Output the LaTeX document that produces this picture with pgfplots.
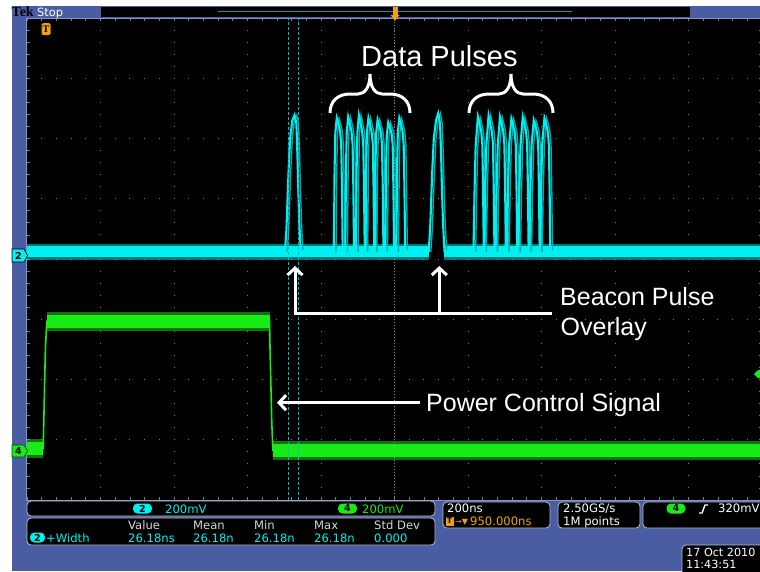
\documentclass[border=0pt]{standalone}
\usepackage{pgfplots}
\pgfplotsset{compat=1.18}
\usepackage{pgfplotstable}
\usepackage{fontspec}
\setmainfont{Liberation Sans}
\newfontfamily\tekfont{DejaVu Sans}
\newfontfamily\logofont{Liberation Serif}
\usetikzlibrary{arrows.meta}

\definecolor{tekblue}{RGB}{74,92,162}
\definecolor{tekcyan}{RGB}{0,240,240}
\definecolor{ghostcyan}{RGB}{0,175,180}
\definecolor{tekgreen}{RGB}{25,235,25}
\definecolor{tekorange}{RGB}{240,160,20}
\definecolor{gridgray}{RGB}{125,125,125}
\definecolor{framelite}{RGB}{130,150,205}
\definecolor{boxedge}{RGB}{185,190,205}
\definecolor{hdrgray}{RGB}{215,215,215}
\definecolor{cursorcyan}{RGB}{0,185,200}
\definecolor{tantick}{RGB}{150,140,95}
\definecolor{recbar}{RGB}{0,160,170}

% Channel 2 (cyan): time [ns], level [div]
\pgfplotstableread{
t y
-1000 0.13
-298 0.13
-294 0.5
-291 1.0
-288 1.5
-284 2.0
-278 2.3
-272 2.39
-267 2.25
-264 1.7
-262 1.2
-259 0.6
-255 0.13
-165 0.13
-163 1.5
-161 2.1
-157 2.34
-153 2.26
-148 2.12
-145 1.9
-143 1.2
-141 0.13
-134 0.13
-132 1.5
-130 2.1
-126 2.36
-122 2.26
-117 2.12
-114 1.9
-112 1.2
-110 0.13
-105 0.13
-103 1.5
-101 2.1
-97 2.39
-93 2.28
-88 2.12
-85 1.9
-83 1.2
-81 0.13
-79 0.13
-77 1.5
-75 2.1
-71 2.34
-67 2.24
-62 2.1
-59 1.9
-57 1.2
-55 0.13
-54 0.13
-52 1.5
-50 2.08
-46 2.31
-42 2.22
-37 2.1
-34 1.9
-32 1.2
-30 0.13
-25 0.13
-23 1.5
-21 2.05
-17 2.27
-13 2.2
-8 2.08
-5 1.9
-3 1.2
-1 0.13
5 0.13
7 1.5
9 2.1
13 2.34
17 2.25
22 2.12
25 1.9
27 1.2
29 0.13
93 0.13
97 0.5
100 1.0
103 1.5
107 2.0
113 2.3
119 2.42
124 2.25
127 1.7
129 1.2
132 0.6
136 0.13
215 0.13
218 1.2
221 1.9
227 2.36
231 2.26
236 2.12
239 1.9
241 1.2
243 0.13
244 0.13
247 1.2
250 1.9
256 2.38
260 2.26
265 2.12
268 1.9
270 1.2
272 0.13
275 0.13
278 1.2
281 1.9
287 2.36
291 2.26
296 2.12
299 1.9
301 1.2
303 0.13
306 0.13
309 1.2
312 1.9
318 2.33
322 2.24
327 2.1
330 1.9
332 1.2
334 0.13
337 0.13
340 1.2
343 1.9
349 2.36
353 2.26
358 2.12
361 1.9
363 1.2
365 0.13
367 0.13
370 1.2
373 1.9
379 2.3
383 2.22
388 2.1
391 1.9
393 1.2
395 0.13
396 0.13
399 1.2
402 1.9
408 2.34
412 2.25
417 2.12
420 1.9
422 1.2
424 0.13
1000 0.13
}\chtwo

% Channel 4 (green)
\pgfplotstableread{
t y
-1000 -3.15
-956 -3.15
-955 -2.9
-950 -1.5
-946 -1.03
-340 -1.03
-339 -1.4
-334 -2.7
-331 -3.17
1000 -3.17
}\chfour

\begin{document}
\begin{tikzpicture}[x=1pt,y=1pt]
\path[use as bounding box] (0,0) rectangle (760,-571);
\fill[white] (0,0) rectangle (760,-571);
\fill[tekblue] (12,-5.5) rectangle (760,-571);
% top status bar
\fill[black] (101,-6.5) rectangle (690,-17);
\draw[recbar, line width=1pt] (218,-11) -- (572,-11);
\node[anchor=base west, inner sep=0, text=black, font=\logofont\bfseries\fontsize{14}{14}\selectfont] at (11.5,-16.5) {Tek};
\node[anchor=base west, inner sep=0, text=white, font=\tekfont\fontsize{11.4}{12}\selectfont] at (37,-16) {Stop};

\begin{axis}[
  at={(27pt,-500pt)}, anchor=south west,
  scale only axis, width=735pt, height=482pt,
  xmin=-1000, xmax=1000, ymin=-4, ymax=4,
  axis background/.style={fill=black},
  xtick={-1000,-800,...,1000}, ytick={-4,-3,...,4},
  xticklabels={}, yticklabels={},
  minor x tick num=4, minor y tick num=4,
  tick align=inside, major tick length=3pt, minor tick length=3pt,
  tick style={gridgray, line width=0.8pt},
  xmajorgrids, ymajorgrids,
  major x grid style={gridgray, line width=1pt, dash pattern=on 1pt off 11.05pt, dash phase=0.5pt},
  major y grid style={gridgray, line width=1pt, dash pattern=on 1pt off 13.7pt, dash phase=0.5pt},
  axis line style={framelite, line width=1pt},
]
% centre (trigger) line
\draw[tantick, line width=1pt, dash pattern=on 1pt off 2pt] (axis cs:0,-4) -- (axis cs:0,4);
% channel 4 (green)
\addplot[tekgreen, opacity=0.5, line width=19pt, forget plot] coordinates {(-1000,-3.15) (-956,-3.15)};
\addplot[tekgreen, line width=13pt, forget plot] coordinates {(-1000,-3.15) (-956,-3.15)};
\addplot[tekgreen, opacity=0.5, line width=19pt, forget plot] coordinates {(-946,-1.03) (-340,-1.03)};
\addplot[tekgreen, line width=13pt, forget plot] coordinates {(-946,-1.03) (-340,-1.03)};
\addplot[tekgreen, opacity=0.5, line width=19pt, forget plot] coordinates {(-331,-3.17) (1000,-3.17)};
\addplot[tekgreen, line width=13pt, forget plot] coordinates {(-331,-3.17) (1000,-3.17)};
\addplot[tekgreen, line width=1.6pt, forget plot] table[x=t,y=y] {\chfour};
% channel 2 (cyan) baseline band
\addplot[tekcyan, opacity=0.5, line width=16pt, forget plot] coordinates {(-1000,0.12) (94,0.12)};
\addplot[tekcyan, line width=11pt, forget plot] coordinates {(-1000,0.12) (94,0.12)};
\addplot[tekcyan, opacity=0.5, line width=16pt, forget plot] coordinates {(136,0.12) (1000,0.12)};
\addplot[tekcyan, line width=11pt, forget plot] coordinates {(136,0.12) (1000,0.12)};
% channel 2 pulses (persistence ghost + main)
\addplot[ghostcyan, line width=1.3pt, xshift=2.2pt, forget plot] table[x=t,y=y] {\chtwo};
\addplot[tekcyan, line width=2.1pt, forget plot] table[x=t,y=y] {\chtwo};
% cursors
\draw[cursorcyan, line width=0.8pt, dash pattern=on 3pt off 2pt] (axis cs:-288,-4) -- (axis cs:-288,4);
\draw[cursorcyan, line width=0.8pt, dash pattern=on 3pt off 2pt] (axis cs:-262,-4) -- (axis cs:-262,4);
% trigger level marker (ch4, 320 mV)
\fill[tekgreen] (axis cs:1000,-1.909) -- ++(-8pt,0pt) -- ++(4pt,4pt) -- ++(4pt,0pt) -- cycle;
\fill[tekgreen] (axis cs:1000,-1.909) -- ++(-8pt,0pt) -- ++(4pt,-4pt) -- ++(4pt,0pt) -- cycle;
\end{axis}

% markers on the screen
\node[fill=tekorange, rounded corners=1.5pt, minimum width=9pt, minimum height=12pt, inner sep=0, text=black, font=\logofont\bfseries\fontsize{10}{10}\selectfont] at (46,-29) {T};
\fill[tekorange] (392.5,-7) rectangle (397.5,-15);
\fill[tekorange] (390.5,-15) -- (399.5,-15) -- (395,-20.5) -- cycle;
% channel tags
\draw[black, fill=tekcyan, line width=0.6pt] (12,-249) -- (24,-249) -- (27.5,-255.5) -- (24,-262) -- (12,-262) -- cycle;
\node[text=black, inner sep=0, font=\tekfont\bfseries\fontsize{9.5}{10}\selectfont] at (18.5,-255.5) {2};
\draw[black!70!green, fill=tekgreen, line width=0.6pt] (12,-445) -- (24,-445) -- (27.5,-451) -- (24,-457) -- (12,-457) -- cycle;
\node[text=black, inner sep=0, font=\tekfont\bfseries\fontsize{9.5}{10}\selectfont] at (18.5,-451) {4};

% annotations
\node[anchor=base west, inner sep=0, text=white, font=\fontsize{29}{30}\selectfont] at (361,-66) {Data Pulses};
\draw[white, line width=3pt, shift={(330,-113)}] (0,0) .. controls (0,12) and (8,19) .. (20,19) -- (28,19) .. controls (35,19) and (40,26) .. (40,39) .. controls (40,26) and (45,19) .. (52,19) -- (60,19) .. controls (72,19) and (80,12) .. (80,0);
\draw[white, line width=3pt, shift={(469,-113)}] (0,0) .. controls (0,12) and (8,19) .. (20,19) -- (30,19) .. controls (37,19) and (42,26) .. (42,39) .. controls (42,26) and (47,19) .. (54,19) -- (64,19) .. controls (76,19) and (84,12) .. (84,0);
\node[anchor=base west, inner sep=0, text=white, font=\fontsize{25}{26}\selectfont] at (560,-305) {Beacon Pulse};
\node[anchor=base west, inner sep=0, text=white, font=\fontsize{25}{26}\selectfont] at (560.5,-335) {Overlay};
\node[anchor=base west, inner sep=0, text=white, font=\fontsize{25}{26}\selectfont] at (426,-411) {Power Control Signal};
\draw[white, line width=3pt] (293.5,-313.3) -- (551.7,-313.3);
\draw[white, line width=3pt, -{Straight Barb[length=7pt,width=15pt]}] (295,-313.3) -- (295,-266);
\draw[white, line width=3pt, -{Straight Barb[length=7pt,width=15pt]}] (439.3,-313.3) -- (439.3,-266);
\draw[white, line width=3pt, -{Straight Barb[length=7pt,width=15pt]}] (420,-402.7) -- (277,-402.7);

% bottom readout boxes
\tikzset{tekbox/.style={draw=boxedge, fill=black, rounded corners=4pt, line width=0.8pt},
  tektxt/.style={anchor=base west, inner sep=0, font=\tekfont\fontsize{11.6}{12}\selectfont},
  badge/.style={rounded corners=4.5pt, minimum width=19pt, minimum height=10pt, inner sep=0, text=black, font=\tekfont\bfseries\fontsize{9.5}{10}\selectfont}}
\draw[tekbox] (27,-501) rectangle (435,-516);
\node[badge, fill=tekcyan] at (142.5,-508.5) {2};
\node[tektxt, text=tekcyan] at (165,-513) {200mV};
\node[badge, fill=tekgreen] at (347.5,-508.5) {4};
\node[tektxt, text=tekgreen] at (362,-513) {200mV};

\draw[tekbox] (27,-518) rectangle (435,-545);
\foreach \xx/\ss in {128/Value,193/Mean,254/Min,314/Max,374/Std Dev}
  \node[tektxt, text=hdrgray] at (\xx,-529) {\ss};
\node[badge, fill=tekcyan, minimum width=15pt] at (37.5,-537.5) {2};
\node[tektxt, text=tekcyan] at (46,-542) {+Width};
\foreach \xx/\ss in {128/26.18ns,193/26.18n,254/26.18n,314/26.18n,374/0.000}
  \node[tektxt, text=tekcyan] at (\xx,-542) {\ss};

\draw[tekbox] (443,-502) rectangle (550,-528);
\node[tektxt, text=white] at (447,-512) {200ns};
\node[fill=tekorange, minimum width=8pt, minimum height=9pt, inner sep=0, text=black, font=\tekfont\bfseries\fontsize{8}{8}\selectfont] at (449.5,-521) {T};
\node[tektxt, text=tekorange, font=\tekfont\fontsize{8}{8}\selectfont] at (455,-524) {→▼};
\node[tektxt, text=tekorange] at (470,-525) {950.000ns};

\draw[tekbox] (558,-502) rectangle (640,-528);
\node[tektxt, text=white] at (563,-512) {2.50GS/s};
\node[tektxt, text=white] at (563,-525) {1M points};

\draw[tekbox] (643,-502) rectangle (775,-528);
\node[badge, fill=tekgreen] at (676,-508.5) {4};
\draw[white, line width=1.4pt] (699,-513) -- (702,-513) -- (705,-505) -- (708,-505);
\node[tektxt, text=white] at (718,-512) {320mV};

\draw[tekbox] (682,-545) rectangle (775,-580);
\node[tektxt, text=white, font=\tekfont\fontsize{11.2}{12}\selectfont] at (686,-556.5) {17 Oct 2010};
\node[tektxt, text=white, font=\tekfont\fontsize{11.2}{12}\selectfont] at (686,-568) {11:43:51};
\end{tikzpicture}
\end{document}
